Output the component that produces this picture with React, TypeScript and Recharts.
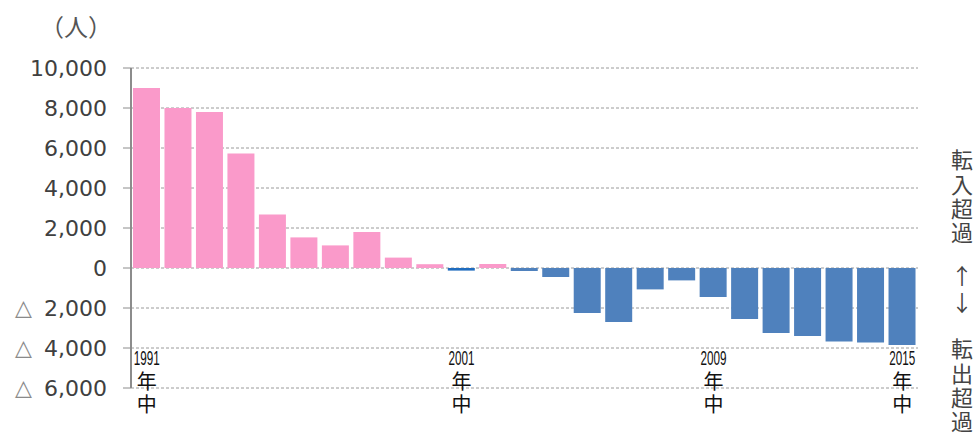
import { BarChart, Bar, XAxis, YAxis, CartesianGrid, Cell } from 'recharts';

const years = [
    '1991', '1992', '1993', '1994', '1995', '1996', '1997', '1998', '1999', '2000',
    '2001', '2002', '2003', '2004', '2005', '2006', '2007', '2008', '2009', '2010',
    '2011', '2012', '2013', '2014', '2015',
];

// net migration (転入超過 positive, 転出超過 negative), persons
const netMigration = [
    9000, 8000, 7800, 5730, 2680, 1530, 1130, 1800, 520, 190,
    -130, 200, -150, -450, -2250, -2700, -1070, -620, -1450, -2550,
    -3250, -3400, -3670, -3730, -3850,
];

const yTicks = [-6000, -4000, -2000, 0, 2000, 4000, 6000, 8000, 10000];
const labelledYears = ['1991', '2001', '2009', '2015'];
const highlightYear = '2001';

const data = years.map((year, i) => ({ year, value: netMigration[i] }));

const PINK = '#FA9ACA';
const BLUE = '#4F81BD';
const DARK_BLUE = '#1F6CBF';
const CJK = '"Noto Sans CJK JP", sans-serif';

const getBarColor = (year: string, value: number) => {
    if (value >= 0) return PINK;
    if (year === highlightYear) return DARK_BLUE;
    return BLUE;
};

const YTick = ({ x, y, payload }: any) => {
    const v = payload.value as number;
    const num = Math.abs(v).toLocaleString('en-US');
    return (
        <g>
            {v < 0 && (
                <text x={x - 75} y={y} dy={7} textAnchor="end" fontSize={22} fontFamily="'DejaVu Sans', sans-serif" fill="#8a8a8a">
                    △
                </text>
            )}
            <text x={x} y={y} dy={8} textAnchor="end" fontSize={22} fontFamily="'DejaVu Sans', Verdana, sans-serif" fill="#404040">
                {num}
            </text>
        </g>
    );
};

const XTick = ({ x, y, payload }: any) => {
    if (!labelledYears.includes(payload.value)) return null;
    return (
        <g>
            <text x={x} y={y - 23} textAnchor="middle" fontSize={21} fontFamily="'Liberation Sans Narrow', 'Liberation Sans', sans-serif"
                textLength={26} lengthAdjust="spacingAndGlyphs" fill="#111">
                {payload.value}
            </text>
            <text x={x} y={y - 17} fontSize={20} fontFamily={CJK} fill="#111"
                style={{ writingMode: 'vertical-rl', textOrientation: 'upright', letterSpacing: '3px' }}>
                年中
            </text>
        </g>
    );
};

const sideText = {
    position: 'absolute' as const,
    left: 946,
    fontSize: 22,
    fontFamily: CJK,
    color: '#444',
    whiteSpace: 'nowrap' as const,
    writingMode: 'vertical-rl' as const,
    textOrientation: 'upright' as const,
    letterSpacing: '2.2px',
};

export default function App() {
    return (
        <div style={{ position: 'absolute', left: 0, top: 0, width: 977, height: 435, background: '#fff', overflow: 'hidden' }}>
            <div style={{ position: 'absolute', left: 40, top: 10, fontSize: 24, fontFamily: CJK, color: '#555', lineHeight: '32px' }}>
                （人）
            </div>
            <BarChart
                width={977}
                height={435}
                data={data}
                margin={{ top: 68, right: 59, left: 0, bottom: 0 }}
                barCategoryGap={2}
            >
                <CartesianGrid vertical={false} stroke="#9a9a9a" strokeDasharray="3 2" />
                <XAxis
                    dataKey="year"
                    height={47}
                    interval={0}
                    axisLine={false}
                    tickLine={false}
                    tickSize={0}
                    tickMargin={0}
                    tick={<XTick />}
                />
                <YAxis
                    width={131}
                    domain={[-6000, 10000]}
                    ticks={yTicks}
                    interval={0}
                    axisLine={{ stroke: '#8c8c8c', strokeWidth: 2 }}
                    tickLine={{ stroke: '#8c8c8c' }}
                    tickSize={8}
                    tickMargin={16}
                    tick={<YTick />}
                />
                <Bar dataKey="value" isAnimationActive={false}>
                    {data.map((entry, index) => (
                        <Cell key={`cell-${index}`} fill={getBarColor(entry.year, entry.value)} />
                    ))}
                </Bar>
            </BarChart>
            <div style={{ ...sideText, top: 149 }}>転入超過</div>
            <div style={{ ...sideText, top: 265, letterSpacing: '5px' }}>↑↓</div>
            <div style={{ ...sideText, top: 338 }}>転出超過</div>
        </div>
    );
}
